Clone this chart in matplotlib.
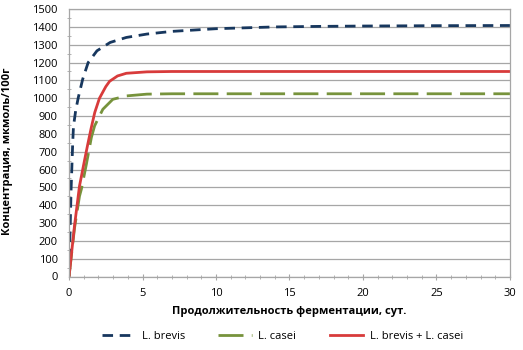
import numpy as np
import matplotlib.pyplot as plt
from matplotlib.ticker import MultipleLocator

plt.rcParams['font.family'] = ['Open Sans', 'DejaVu Sans']

brevis_t = [0, 0.07, 0.14, 0.25, 0.3, 0.45, 0.63, 0.93, 1.3, 1.9, 2.8, 3.9, 5.3, 7, 10, 14, 17, 20, 25, 30]
brevis = [0, 250, 490, 750, 840, 930, 1004, 1107, 1200, 1266, 1313, 1341, 1360, 1375, 1390, 1400, 1403, 1405, 1407, 1408]

casei_t = [0, 0.37, 0.71, 0.84, 1.18, 1.52, 1.74, 2.3, 2.98, 3.9, 5.3, 7, 30]
casei = [0, 270, 450, 490, 630, 780, 845, 938, 994, 1013, 1023, 1025, 1025]

mix_t = [0, 0.37, 0.71, 1.05, 1.27, 1.5, 1.75, 2.07, 2.5, 2.76, 3.3, 3.9, 5.3, 7, 10, 30]
mix = [0, 283, 507, 650, 740, 830, 920, 1000, 1065, 1095, 1125, 1140, 1148, 1150, 1150, 1150]

fig = plt.figure(figsize=(5.23, 3.5), dpi=100)
ax = fig.add_axes([0.132, 0.21, 0.843, 0.764])

ax.plot(brevis_t, brevis, color='#17375E', lw=2.0, dashes=(3.8, 2.4), label='L. brevis')
ax.plot(casei_t, casei, color='#77933C', lw=2.0, dashes=(9, 3), label='L. casei')
ax.plot(mix_t, mix, color='#D83B3B', lw=2.0, label='L. brevis + L. casei')

ax.set_xlim(0, 30)
ax.set_ylim(0, 1500)
ax.xaxis.set_major_locator(MultipleLocator(5))
ax.xaxis.set_minor_locator(MultipleLocator(1))
ax.yaxis.set_major_locator(MultipleLocator(100))
ax.yaxis.set_minor_locator(MultipleLocator(50))
ax.grid(axis='y', color='#A6A6A6', lw=0.9)
ax.set_axisbelow(True)
for s in ax.spines.values():
    s.set_color('#A6A6A6')
    s.set_linewidth(0.9)
ax.tick_params(axis='both', which='major', labelsize=8, color='#A6A6A6', length=4, direction='inout')
ax.tick_params(axis='x', which='major', pad=6)
ax.tick_params(axis='y', which='major', length=0, pad=8)
ax.tick_params(axis='both', which='minor', color='#A6A6A6', length=2.5, direction='inout')

ax.set_xlabel('Продолжительность ферментации, сут.', fontsize=8, fontweight='bold')
ax.set_ylabel('Концентрация, мкмоль/100г', fontsize=8, fontweight='bold')
ax.xaxis.set_label_coords(0.5, -0.11)
ax.yaxis.set_label_coords(-0.128, 0.47)

fig.legend(loc='center', bbox_to_anchor=(0.54, 0.038), ncol=3, frameon=False, fontsize=8,
           handlelength=3.0, handletextpad=0.6, columnspacing=3.0)

fig.savefig('out.png', dpi=100)
